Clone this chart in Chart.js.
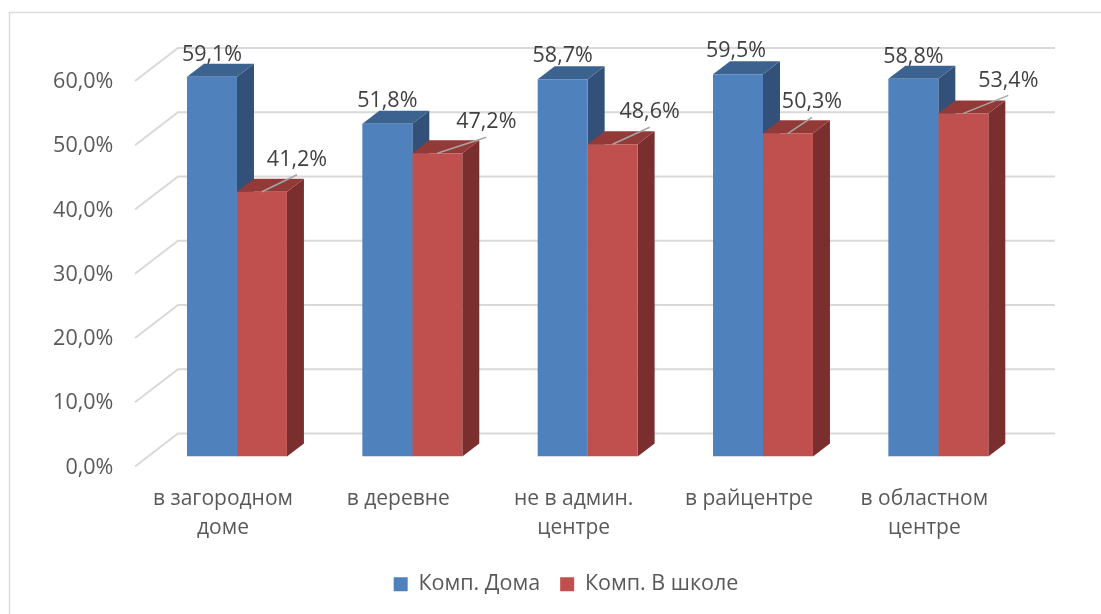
<!DOCTYPE html>
<html><head><meta charset="utf-8">
<style>html,body{margin:0;padding:0;background:#fff}#w{width:1101px;height:614px}</style>
<script src="https://cdn.jsdelivr.net/npm/chart.js@4"></script>
</head><body><div id="w"><canvas id="c" width="1101" height="614"></canvas></div>
<script>
const categories = [["в загородном","доме"],"в деревне",["не в админ.","центре"],"в райцентре",["в областном","центре"]];
const homeName = "Комп. Дома";
const schoolName = "Комп. В школе";
const homeValues = [59.1,51.8,58.7,59.5,58.8];
const schoolValues = [41.2,47.2,48.6,50.3,53.4];

const FONT = '"Open Sans", sans-serif';
const fmt = v => v.toFixed(1).replace('.',',')+'%';
const DX = 17, DY = 13;
const colors = [
  {front:'#4f81bd', side:'#325078', top:'#3c6390'},
  {front:'#c0504d', side:'#7a2f2e', top:'#933a38'}
];
const labelOffsets = [
  [[0,-22],[0,-23],[0,-23],[-2,-23],[0,-22]],
  [[35,-32],[49,-31],[37,-32],[24,-31],[45,-33]]
];
function poly(ctx,pts,fill){ctx.beginPath();pts.forEach((p,i)=>i?ctx.lineTo(p[0],p[1]):ctx.moveTo(p[0],p[1]));ctx.closePath();ctx.fillStyle=fill;ctx.fill();}

const deco = {
  id:'deco',
  beforeDatasetsDraw(chart){
    const {ctx,scales:{y}}=chart;
    ctx.save();
    ctx.strokeStyle='#dcdcdc';ctx.lineWidth=1.5;
    ctx.beginPath();ctx.moveTo(9.5,614);ctx.lineTo(9.5,12.5);ctx.lineTo(1101,12.5);ctx.stroke();
    ctx.strokeStyle='#d9d9d9';ctx.lineWidth=2;
    y.ticks.forEach(t=>{
      const p=y.getPixelForValue(t.value);
      ctx.beginPath();ctx.moveTo(135,p+10);ctx.lineTo(178,p-23);ctx.lineTo(1055,p-23);ctx.stroke();
    });
    chart.data.datasets.forEach((ds,di)=>{
      const c=colors[di], base=y.getPixelForValue(0);
      chart.getDatasetMeta(di).data.forEach(b=>{
        const r=b.x+b.width/2,l=b.x-b.width/2,t=b.y;
        poly(ctx,[[r,t],[r+DX,t-DY],[r+DX,base-DY],[r,base]],c.side);
        poly(ctx,[[l,t],[l+DX,t-DY],[r+DX,t-DY],[r,t]],c.top);
      });
    });
    ctx.restore();
  },
  afterDatasetsDraw(chart){
    const {ctx}=chart;
    ctx.save();
    ctx.font='21.5px '+FONT;ctx.textAlign='center';ctx.textBaseline='middle';
    chart.data.datasets.forEach((ds,di)=>{
      chart.getDatasetMeta(di).data.forEach((b,i)=>{
        const [dx,dy]=labelOffsets[di][i];
        if(di===1){
          ctx.strokeStyle='#a6a6a6';ctx.lineWidth=1.5;
          ctx.beginPath();ctx.moveTo(b.x,b.y);ctx.lineTo(b.x+dx,b.y+dy+15);ctx.stroke();
        }
        ctx.fillStyle='#404040';
        ctx.fillText(fmt(ds.data[i]),b.x+dx,b.y+dy);
      });
    });
    ctx.restore();
  }
};

new Chart(document.getElementById('c'),{
  type:'bar',
  data:{labels:categories,datasets:[
    {label:homeName,data:homeValues,backgroundColor:colors[0].front,categoryPercentage:0.57,barPercentage:1},
    {label:schoolName,data:schoolValues,backgroundColor:colors[1].front,categoryPercentage:0.57,barPercentage:1}
  ]},
  plugins:[deco],
  options:{
    responsive:false,animation:false,
    layout:{padding:{top:71,right:0,bottom:9,left:31}},
    plugins:{
      tooltip:{enabled:false},
      legend:{position:'bottom',labels:{color:'#595959',font:{family:FONT,size:21.5},boxWidth:14,boxHeight:14,padding:20}}
    },
    scales:{
      x:{
        grid:{display:false},border:{display:false},
        afterFit(s){s.height=97;},
        ticks:{color:'#595959',font:{family:FONT,size:21,lineHeight:1.38},padding:20,labelOffset:-14,maxRotation:0,autoSkip:false}
      },
      y:{
        min:0,max:60,
        grid:{display:false},border:{display:false},
        afterFit(s){s.width=118.3;},
        ticks:{stepSize:10,color:'#595959',font:{family:FONT,size:21.5},padding:28,labelOffset:11,callback:v=>fmt(v)}
      },
      spacer:{
        position:'right',
        grid:{display:false},border:{display:false},
        ticks:{display:false},
        afterFit(s){s.width=75;}
      }
    }
  }
});
</script></body></html>
